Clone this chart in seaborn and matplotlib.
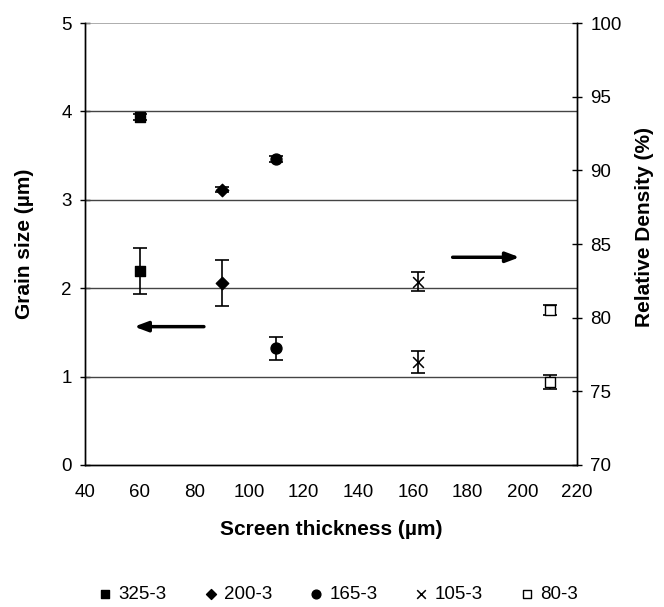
import matplotlib
matplotlib.use("Agg")
import matplotlib.pyplot as plt
import seaborn as sns
import pandas as pd

samples = ["325-3", "200-3", "165-3", "105-3", "80-3"]
thickness = [60, 90, 110, 162, 210]
grain_size = [2.20, 2.06, 1.32, 1.16, 0.94]
grain_err = [0.26, 0.26, 0.13, 0.125, 0.08]
density = [93.65, 88.7, 90.75, 82.45, 80.5]
density_err = [0.2, 0.2, 0.2, 0.65, 0.35]

markers = {"325-3": "s", "200-3": "D", "165-3": "o", "105-3": "x", "80-3": "s"}
faces = {"325-3": "black", "200-3": "black", "165-3": "black", "105-3": "black", "80-3": "white"}
sizes = {"325-3": 60, "200-3": 40, "165-3": 62, "105-3": 60, "80-3": 42}

df = pd.DataFrame({"sample": samples, "thickness": thickness,
                   "grain": grain_size, "grain_err": grain_err,
                   "density": density, "density_err": density_err})

sns.set_style("white")
plt.rcParams["font.family"] = ["Liberation Sans", "DejaVu Sans"]
plt.rcParams["text.color"] = "black"
plt.rcParams["axes.labelcolor"] = "black"

fig = plt.figure(figsize=(6.64, 6.07), dpi=100)
ax = fig.add_axes([0.128, 0.234, 0.741, 0.728])
ax2 = ax.twinx()

# error bars first, markers on top
ax.errorbar(df["thickness"], df["grain"], yerr=df["grain_err"], fmt="none",
            ecolor="black", elinewidth=1.2, capsize=4.8, capthick=1.2, zorder=3)
ax2.errorbar(df["thickness"], df["density"], yerr=df["density_err"], fmt="none",
             ecolor="black", elinewidth=1.2, capsize=4.8, capthick=1.2, zorder=3)

for s in samples:
    sub = df[df["sample"] == s]
    kw = dict(marker=markers[s], s=sizes[s], zorder=4)
    if markers[s] == "x":
        kw.update(color="black", linewidth=1.1)
    else:
        kw.update(facecolor=faces[s], edgecolor="black", linewidth=1.0)
    sns.scatterplot(data=sub, x="thickness", y="grain", ax=ax, label=s, legend=False, **kw)
    sns.scatterplot(data=sub, x="thickness", y="density", ax=ax2, legend=False, **kw)

ax.set_xlim(40, 220)
ax.set_ylim(0, 5)
ax2.set_ylim(70, 100)
ax.set_xticks(range(40, 221, 20))
ax.set_yticks(range(0, 6))
ax2.set_yticks(range(70, 101, 5))

for y in [1, 2, 3, 4]:
    ax.axhline(y, color="#444444", lw=1.0, zorder=1)
ax.axhline(5, color="#a0a0a0", lw=1.2, zorder=1)

for a in (ax, ax2):
    for side in ["left", "right", "bottom"]:
        a.spines[side].set_color("black")
        a.spines[side].set_linewidth(1.0)
    a.spines["top"].set_visible(False)
ax.tick_params(axis="both", direction="inout", length=7, width=1.0,
               labelsize=13.5, colors="black", pad=6)
ax2.tick_params(axis="y", direction="inout", length=7, width=1.0,
                labelsize=13.5, colors="black", pad=6)
ax.tick_params(axis="x", pad=10)

ax.set_xlabel("Screen thickness (µm)", fontsize=15, fontweight="bold")
ax.set_ylabel("Grain size (µm)", fontsize=15, fontweight="bold", va="center")
ax2.set_ylabel("Relative Density (%)", fontsize=15, fontweight="bold", va="center")
ax.xaxis.set_label_coords(0.5, -(530 - 465) / 442)
ax.yaxis.set_label_coords((25 - 85) / 492, 0.5)
ax2.yaxis.set_label_coords((644 - 85) / 492, 1 - (227 - 23) / 442)
ax.xaxis.label.set_va("center")

arrow = dict(arrowstyle="-|>,head_length=0.8,head_width=0.3", color="black", lw=2.5,
             shrinkA=0, shrinkB=0)
ax.annotate("", xy=(58, 1.565), xytext=(83.5, 1.565), arrowprops=arrow)
ax.annotate("", xy=(199, 2.35), xytext=(174.5, 2.35), arrowprops=arrow)

handles, labels = ax.get_legend_handles_labels()
fig.legend(handles, labels, loc="center left", bbox_to_anchor=(81 / 664, 1 - 594 / 607),
           ncol=5, frameon=False, fontsize=13.5, handlelength=0.8, handletextpad=0.3,
           columnspacing=1.95, markerscale=0.8)

fig.savefig("out.png", dpi=100)
